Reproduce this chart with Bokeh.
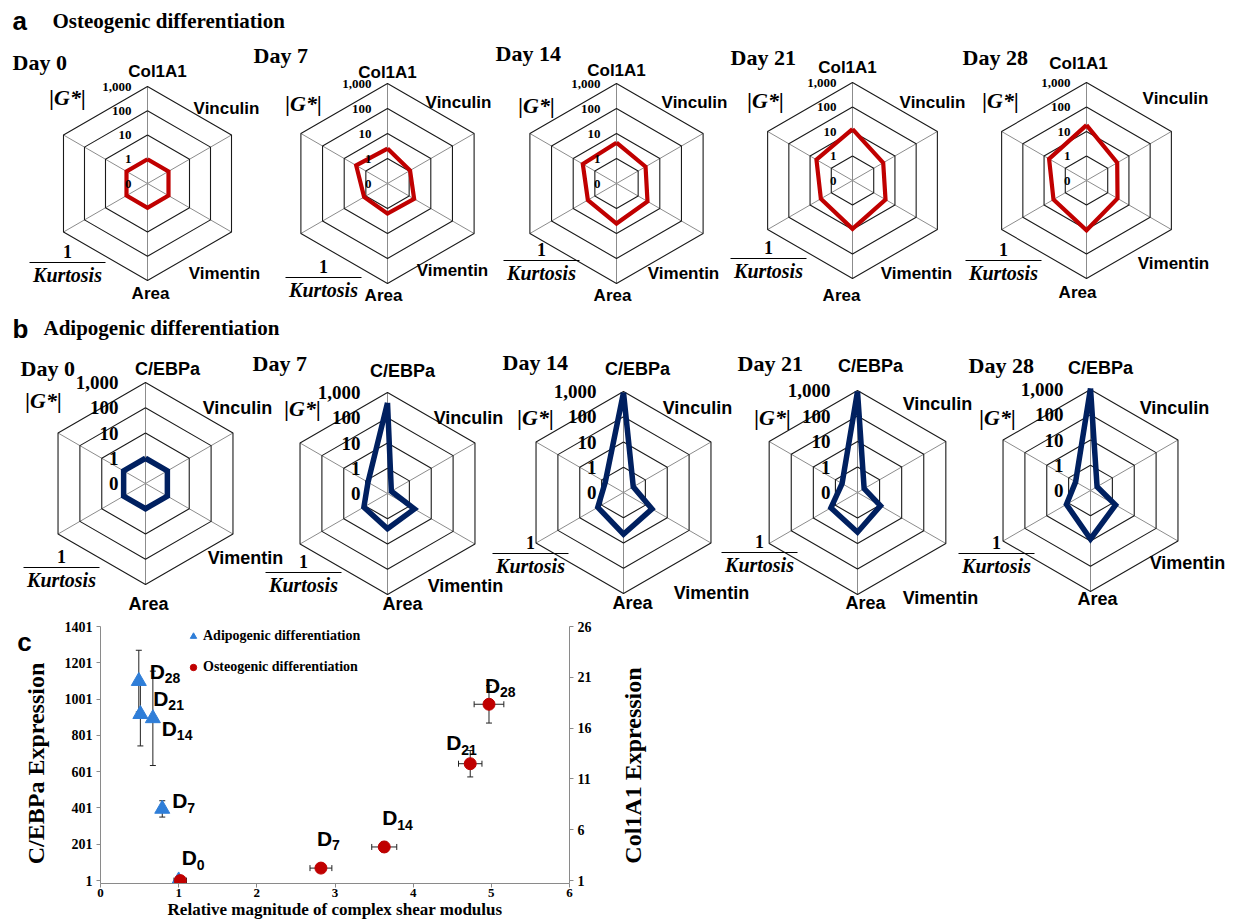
import math
from bokeh.plotting import figure
from bokeh.models import (Range1d, LinearAxis, ColumnDataSource, Whisker,
                          Legend, LegendItem, FixedTicker, TeeHead)
from bokeh.layouts import row
from bokeh.embed import file_html
from bokeh.resources import INLINE
from bokeh.core.properties import value

# ---------------- data ----------------
days = ["Day 0", "Day 7", "Day 14", "Day 21", "Day 28"]
osteo_axes = ["Col1A1", "Vinculin", "Vimentin", "Area", "1/Kurtosis", "|G*|"]
adipo_axes = ["C/EBPa", "Vinculin", "Vimentin", "Area", "1/Kurtosis", "|G*|"]
ring_values = [0.1, 1, 10, 100, 1000]
ring_labels = ["0", "1", "10", "100", "1,000"]

# radar values, axis order: marker gene, Vinculin, Vimentin, Area, 1/Kurtosis, |G*|
osteo_day0 = [1, 1, 1, 1, 1, 1]
osteo_day7 = [2.5, 1.1, 1.7, 1.6, 1.2, 2.8]
osteo_day14 = [4.3, 2.2, 2.7, 4.0, 2.1, 3.6]
osteo_day21 = [12.5, 2.8, 3.6, 9.4, 3.1, 5.0]
osteo_day28 = [18.3, 2.8, 2.9, 10.7, 3.6, 5.8]

adipo_day0 = [1, 1, 1, 1, 1, 1]
adipo_day7 = [390, 0.15, 1.7, 2.5, 1.2, 0.78]
adipo_day14 = [900, 0.28, 2.0, 4.5, 1.5, 0.68]
adipo_day21 = [920, 0.2, 1.1, 3.6, 1.6, 0.5]
adipo_day28 = [1100, 0.2, 1.4, 8.3, 1.26, 0.48]

# panel c
day_subs = ["0", "7", "14", "21", "28"]
adipo_g = [1.0, 0.79, 0.67, 0.51, 0.49]
adipo_cebpa = [1, 396, 895, 918, 1100]
adipo_cebpa_err = [8, 45, 260, 175, 170]
osteo_g = [1.02, 2.82, 3.63, 4.73, 4.97]
osteo_g_err = [0.08, 0.14, 0.16, 0.15, 0.19]
osteo_col1a1 = [1, 2.23, 4.31, 12.5, 18.35]
osteo_col1a1_err = [0.1, 0.2, 0.5, 1.3, 1.85]
x_ticks = [0, 1, 2, 3, 4, 5, 6]
left_ticks = [1, 201, 401, 601, 801, 1001, 1201, 1401]
right_ticks = [1, 6, 11, 16, 21, 26]

# ---------------- style ----------------
RED = "#C00000"
NAVY = "#002060"
BLUE = "#2F7ED8"
SERIF = value("Liberation Serif")
SANS = value("Liberation Sans")

# ---------------- radar figure ----------------
top = figure(width=1230, height=618, x_range=Range1d(0, 1230), y_range=Range1d(618, 0),
             output_backend="svg", toolbar_location=None,
             x_axis_location=None, y_axis_location=None, min_border=0)
top.grid.visible = False
top.outline_line_color = None

LMIN, LMAX = math.log10(ring_values[0]), math.log10(ring_values[-1])


def rfrac(v):
    return (math.log10(v) - LMIN) / (LMAX - LMIN)


ANG = [k * math.pi / 3 for k in range(6)]


def pt(cx, cy, rad, k):
    return cx + rad * math.sin(ANG[k]), cy - rad * math.cos(ANG[k])


def add_texts(fig, xs, ys, texts, font, size, style="bold", align="center",
              baseline="middle", angle=0.0):
    src = ColumnDataSource(dict(x=xs, y=ys, t=texts))
    fig.text(x="x", y="y", text="t", source=src, text_font=font, text_font_size=size,
             text_font_style=style, text_align=align, text_baseline=baseline,
             text_color="black", angle=angle)


rows = [
    dict(values=[osteo_day0, osteo_day7, osteo_day14, osteo_day21, osteo_day28],
         axes=osteo_axes, color=RED, lw=4.2,
         centers=[(147, 183, 97), (387, 183, 100), (616, 183, 100), (852, 180, 98), (1086, 180, 98)],
         ring_dx=-16, ring_size="13px", lab_size="17px",
         offs=[[(10, -112), (79, -75), (77, 90), (3, 110), (-80, -86)],
               [(0, -111), (71, -81), (65, 87), (-4, 112), (-84, -80)],
               [(0, -113), (78, -81), (67, 90), (-4, 112), (-80, -78)],
               [(-5, -113), (80, -78), (64, 93), (-11, 115), (-87, -80)],
               [(-8, -117), (89, -82), (87, 83), (-9, 112), (-86, -80)]],
         kurt=[(-80, 79), (-64, 94), (-75, 77), (-84, 78), (-83, 80)],
         day_pos=[(12, 62), (253, 55), (495, 53), (730, 57), (962, 57)],
         letter=("a", 12, 20), heading=("Osteogenic differentiation", 52, 20)),
    dict(values=[adipo_day0, adipo_day7, adipo_day14, adipo_day21, adipo_day28],
         axes=adipo_axes, color=NAVY, lw=5.5,
         centers=[(145, 483, 101), (387, 493, 101), (623, 492, 101), (857, 492, 102), (1090, 490, 101)],
         ring_dx=-27, ring_size="19px", lab_size="18px",
         offs=[[(22, -115), (92, -76), (100, 74), (3, 120), (-102, -83)],
               [(15, -123), (81, -76), (78, 92), (15, 110), (-85, -85)],
               [(14, -124), (74, -85), (88, 100), (9, 110), (-88, -75)],
               [(13, -127), (80, -89), (83, 105), (8, 110), (-85, -75)],
               [(10, -123), (84, -83), (97, 72), (7, 108), (-93, -73)]],
         kurt=[(-84, 84), (-84, 79), (-93, 61), (-98, 60), (-94, 63)],
         day_pos=[(20, 368), (252, 363), (502, 362), (737, 363), (968, 365)],
         letter=("b", 12, 328), heading=("Adipogenic differentiation", 43, 327)),
]

for rw in rows:
    sx0, sy0, sx1, sy1 = [], [], [], []
    ring_xs, ring_ys = [], []
    for (cx, cy, R) in rw["centers"]:
        for k in range(6):
            x1, y1 = pt(cx, cy, R, k)
            sx0.append(cx); sy0.append(cy); sx1.append(x1); sy1.append(y1)
        for rv in ring_values[1:]:
            rad = rfrac(rv) * R
            pts = [pt(cx, cy, rad, k) for k in list(range(6)) + [0]]
            ring_xs.append([p[0] for p in pts]); ring_ys.append([p[1] for p in pts])
    top.segment(sx0, sy0, sx1, sy1, line_color="#8C8C8C", line_width=1)
    top.multi_line(ring_xs, ring_ys, line_color="#1A1A1A", line_width=1.1)

    for vals, (cx, cy, R) in zip(rw["values"], rw["centers"]):
        pts = [pt(cx, cy, rfrac(v) * R, k) for k, v in enumerate(vals)]
        pts.append(pts[0])
        top.line([p[0] for p in pts], [p[1] for p in pts], line_color=rw["color"],
                 line_width=rw["lw"], line_join="miter")

    rx, ry, rt = [], [], []
    for (cx, cy, R) in rw["centers"]:
        for rv, lab in zip(ring_values, ring_labels):
            rx.append(cx + rw["ring_dx"]); ry.append(cy - rfrac(rv) * R); rt.append(lab)
    add_texts(top, rx, ry, rt, SERIF, rw["ring_size"], align="right")

    lx, ly, lt = [], [], []
    gx, gy, gt = [], [], []
    nx, ny, nt = [], [], []
    kx, ky, kt = [], [], []
    fx0, fx1, fy = [], [], []
    num, den = rw["axes"][4].split("/")
    for (cx, cy, R), offs, (kdx, kdy) in zip(rw["centers"], rw["offs"], rw["kurt"]):
        for idx, (dx, dy) in zip([0, 1, 2, 3], offs[:4]):
            lx.append(cx + dx); ly.append(cy + dy); lt.append(rw["axes"][idx])
        gx.append(cx + offs[4][0]); gy.append(cy + offs[4][1]); gt.append(rw["axes"][5])
        nx.append(cx + kdx); ny.append(cy + kdy - 11); nt.append(num)
        kx.append(cx + kdx); ky.append(cy + kdy + 12); kt.append(den)
        fx0.append(cx + kdx - 38); fx1.append(cx + kdx + 38); fy.append(cy + kdy)
    add_texts(top, lx, ly, lt, SANS, rw["lab_size"])
    add_texts(top, gx, gy, gt, SERIF, "22px", style="bold italic")
    add_texts(top, nx, ny, nt, SERIF, "18px")
    add_texts(top, kx, ky, kt, SERIF, "20px", style="bold italic")
    top.segment(fx0, fy, fx1, fy, line_color="black", line_width=1)

    add_texts(top, [p[0] for p in rw["day_pos"]], [p[1] for p in rw["day_pos"]], days,
              SERIF, "22px", align="left")
    add_texts(top, [rw["letter"][1]], [rw["letter"][2]], [rw["letter"][0]], SANS, "26px", align="left")
    add_texts(top, [rw["heading"][1]], [rw["heading"][2]], [rw["heading"][0]], SERIF, "21px", align="left")

# ---------------- panel c scatter ----------------
H_C = 303
B_TOP, B_BOT = 8, 38
FRAME_H = H_C - B_TOP - B_BOT
pad = 16
sc = figure(width=534, height=H_C, x_range=Range1d(0, 6), y_range=Range1d(1 - pad, 1401),
            output_backend="svg", toolbar_location=None,
            min_border_left=40, min_border_right=22, min_border_top=B_TOP, min_border_bottom=B_BOT)
sc.extra_y_ranges = {"right": Range1d(1 - pad * 25 / 1400, 26)}
sc.grid.visible = False
sc.outline_line_color = None

right_axis = LinearAxis(y_range_name="right", ticker=FixedTicker(ticks=right_ticks))
sc.add_layout(right_axis, "right")
sc.xaxis.ticker = FixedTicker(ticks=x_ticks)
sc.yaxis[0].ticker = FixedTicker(ticks=left_ticks)
for ax in [sc.xaxis[0], sc.yaxis[0], right_axis]:
    ax.axis_line_color = "#8A8A8A"
    ax.major_tick_line_color = "#8A8A8A"
    ax.minor_tick_line_color = None
    ax.major_tick_out = 4
    ax.major_tick_in = 0
    ax.major_label_text_font = "Liberation Serif"
    ax.major_label_text_font_style = "bold"
    ax.major_label_text_font_size = "14px"
    ax.major_label_text_color = "black"
    ax.major_label_standoff = 4
sc.xaxis.major_label_text_font_size = "13px"
sc.xaxis.major_label_standoff = 1
sc.xaxis.axis_label = "Relative magnitude of complex shear modulus"
sc.xaxis.axis_label_text_font = "Liberation Serif"
sc.xaxis.axis_label_text_font_style = "bold"
sc.xaxis.axis_label_text_color = "black"
sc.xaxis.axis_label_text_font_size = "17px"
sc.xaxis.axis_label_standoff = 0

src_a = ColumnDataSource(dict(x=adipo_g, y=adipo_cebpa,
                              lo=[y - e for y, e in zip(adipo_cebpa, adipo_cebpa_err)],
                              hi=[y + e for y, e in zip(adipo_cebpa, adipo_cebpa_err)]))
src_o = ColumnDataSource(dict(x=osteo_g, y=osteo_col1a1,
                              xlo=[x - e for x, e in zip(osteo_g, osteo_g_err)],
                              xhi=[x + e for x, e in zip(osteo_g, osteo_g_err)],
                              ylo=[y - e for y, e in zip(osteo_col1a1, osteo_col1a1_err)],
                              yhi=[y + e for y, e in zip(osteo_col1a1, osteo_col1a1_err)]))


def tee():
    return TeeHead(size=6, line_color="#222222", line_width=1)


sc.add_layout(Whisker(source=src_a, base="x", lower="lo", upper="hi", dimension="height",
                      line_color="#222222", line_width=1, lower_head=tee(), upper_head=tee()))
sc.add_layout(Whisker(source=src_o, base="y", lower="xlo", upper="xhi", dimension="width",
                      y_range_name="right", line_color="#222222", line_width=1,
                      lower_head=tee(), upper_head=tee()))
sc.add_layout(Whisker(source=src_o, base="x", lower="ylo", upper="yhi", dimension="height",
                      y_range_name="right", line_color="#222222", line_width=1,
                      lower_head=tee(), upper_head=tee()))

r_a = sc.scatter("x", "y", source=src_a, marker="triangle", size=15, fill_color=BLUE,
                 line_color=BLUE)
r_o = sc.scatter("x", "y", source=src_o, marker="circle", size=12, fill_color=RED,
                 line_color=RED, y_range_name="right")

a_dx = [3, 10, 9, 13, 11]
a_dy = [-23, -8, 10, -16, -10]
lab_a = ColumnDataSource(dict(x=adipo_g, y=adipo_cebpa, d=["D"] * 5, s=day_subs,
                              dx=a_dx, dy=a_dy, sdx=[d + 15 for d in a_dx], sdy=[d + 7 for d in a_dy]))
o_dx = [-4, -2, -24, -4]
o_dy = [-30, -29, -21, -19]
lab_o = ColumnDataSource(dict(x=osteo_g[1:], y=osteo_col1a1[1:], d=["D"] * 4, s=day_subs[1:],
                              dx=o_dx, dy=o_dy, sdx=[d + 15 for d in o_dx], sdy=[d + 7 for d in o_dy]))
for src, rname in [(lab_a, "default"), (lab_o, "right")]:
    sc.text(x="x", y="y", text="d", source=src, x_offset="dx", y_offset="dy",
            text_font=SANS, text_font_size="21px", text_font_style="bold",
            text_align="left", text_baseline="middle", y_range_name=rname)
    sc.text(x="x", y="y", text="s", source=src, x_offset="sdx", y_offset="sdy",
            text_font=SANS, text_font_size="14px", text_font_style="bold",
            text_align="left", text_baseline="middle", y_range_name=rname)

legend = Legend(items=[LegendItem(label="Adipogenic differentiation", renderers=[r_a]),
                       LegendItem(label="Osteogenic differentiation", renderers=[r_o])],
                location=(85, 208), label_text_font="Liberation Serif",
                label_text_font_style="bold", label_text_font_size="14px",
                label_text_color="black",
                glyph_width=16, glyph_height=16, spacing=15, padding=0, margin=0,
                label_standoff=2, border_line_color=None, background_fill_alpha=0)
sc.add_layout(legend)


# side strips holding panel letter and the two rotated axis titles
def strip(width):
    f = figure(width=width, height=H_C, x_range=Range1d(0, width), y_range=Range1d(0, FRAME_H),
               output_backend="svg", toolbar_location=None,
               x_axis_location=None, y_axis_location=None,
               min_border_left=0, min_border_right=0, min_border_top=B_TOP,
               min_border_bottom=B_BOT)
    f.grid.visible = False
    f.outline_line_color = None
    return f


left_strip = strip(60)
add_texts(left_strip, [24], [FRAME_H - 15], ["c"], SANS, "26px", baseline="alphabetic")
add_texts(left_strip, [35], [FRAME_H - 134], ["C/EBPa  Expression"], SERIF, "24px",
          angle=math.pi / 2)
right_strip = strip(60)
add_texts(right_strip, [38], [FRAME_H - 139], ["Col1A1 Expression"], SERIF, "24px",
          angle=math.pi / 2)

bottom = row(left_strip, sc, right_strip)
open("out.html", "w").write(file_html([top, bottom], INLINE))
